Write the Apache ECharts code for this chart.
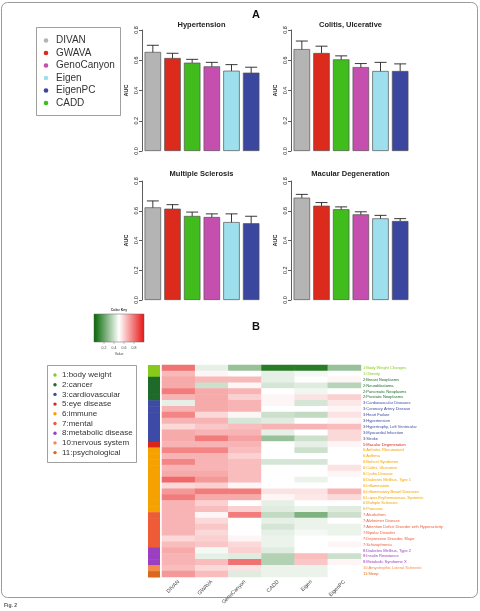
<!DOCTYPE html>
<html>
<head>
<meta charset="utf-8">
<script src="https://cdn.jsdelivr.net/npm/echarts@6/dist/echarts.min.js"></script>
<style>
html,body{margin:0;padding:0;background:#fff;}
#main{width:480px;height:611px;}
</style>
</head>
<body>
<div id="main"></div>
<script>
// ---- panel A : AUC bar plots ----
var methods = ['DIVAN', 'GWAVA', 'CADD', 'GenoCanyon', 'Eigen', 'EigenPC'];
var methodColors = ['#b4b4b4', '#dc2a1d', '#40bd1c', '#c54fae', '#9ddfec', '#3b469f'];
var legendNamesA = ['DIVAN', 'GWAVA', 'GenoCanyon', 'Eigen', 'EigenPC', 'CADD'];
var legendColorsA = ['#b4b4b4', '#dc2a1d', '#c54fae', '#9ddfec', '#3b469f', '#40bd1c'];
var panelTitles = ['Hypertension', 'Colitis, Ulcerative', 'Multiple Sclerosis', 'Macular Degeneration'];
var aucHypertension = [0.655, 0.615, 0.584, 0.560, 0.531, 0.518];
var errHypertension = [0.044, 0.031, 0.022, 0.026, 0.040, 0.036];
var aucColitis = [0.674, 0.648, 0.606, 0.555, 0.529, 0.529];
var errColitis = [0.053, 0.045, 0.023, 0.023, 0.057, 0.047];
var aucSclerosis = [0.623, 0.614, 0.565, 0.558, 0.524, 0.516];
var errSclerosis = [0.043, 0.027, 0.026, 0.021, 0.055, 0.047];
var aucMacular = [0.688, 0.634, 0.610, 0.576, 0.549, 0.531];
var errMacular = [0.022, 0.021, 0.016, 0.017, 0.020, 0.016];
var aucTicks = [0, 0.2, 0.4, 0.6, 0.8];

// ---- panel B : heatmap ----
var heatCols = ['DIVAN', 'GWAVA', 'GenoCanyon', 'CADD', 'Eigen', 'EigenPC'];
var groupIds = [1, 2, 3, 5, 6, 7, 8, 10, 11];
var groupNames = ['body weight', 'cancer', 'cardiovascular', 'eye disease', 'immune', 'mental', 'metabolic disease', 'nervous system', 'psychological'];
var groupColors = ['#86ca1c', '#1e6a2b', '#3d4aa6', '#d8261c', '#f5a200', '#ef5b36', '#9a3fc2', '#f48a48', '#d9681c'];
var diseases = ['Body Weight Changes', 'Obesity', 'Breast Neoplasms', 'Neuroblastoma', 'Pancreatic Neoplasms',
  'Prostatic Neoplasms', 'Cardiovascular Diseases', 'Coronary Artery Disease', 'Heart Failure', 'Hypertension',
  'Hypertrophy, Left Ventricular', 'Myocardial Infarction', 'Stroke', 'Macular Degeneration', 'Arthritis, Rheumatoid',
  'Asthma', 'Behcet Syndrome', 'Colitis, Ulcerative', 'Crohn Disease', 'Diabetes Mellitus, Type 1', 'Inflammation',
  'Inflammatory Bowel Diseases', 'Lupus Erythematosus, Systemic', 'Multiple Sclerosis', 'Psoriasis', 'Alcoholism',
  'Alzheimer Disease', 'Attention Deficit Disorder with Hyperactivity', 'Bipolar Disorder', 'Depressive Disorder, Major',
  'Schizophrenia', 'Diabetes Mellitus, Type 2', 'Insulin Resistance', 'Metabolic Syndrome X',
  'Amyotrophic Lateral Sclerosis', 'Sleep'];
var diseaseGroup = [1, 1, 2, 2, 2, 2, 3, 3, 3, 3, 3, 3, 3, 5, 6, 6, 6, 6, 6, 6, 6, 6, 6, 6, 6, 7, 7, 7, 7, 7, 7, 8, 8, 8, 10, 11];
var heatValues = [
  [0.80, 0.45, 0.30, 0.08, 0.08, 0.30],
  [0.65, 0.52, 0.50, 0.45, 0.48, 0.50],
  [0.68, 0.65, 0.65, 0.45, 0.50, 0.52],
  [0.68, 0.40, 0.52, 0.42, 0.44, 0.36],
  [0.78, 0.68, 0.66, 0.50, 0.47, 0.50],
  [0.66, 0.68, 0.60, 0.52, 0.56, 0.60],
  [0.45, 0.68, 0.66, 0.52, 0.42, 0.55],
  [0.66, 0.68, 0.66, 0.50, 0.50, 0.52],
  [0.76, 0.58, 0.52, 0.40, 0.38, 0.56],
  [0.66, 0.66, 0.42, 0.44, 0.50, 0.52],
  [0.58, 0.62, 0.64, 0.66, 0.66, 0.64],
  [0.68, 0.66, 0.66, 0.45, 0.50, 0.58],
  [0.68, 0.78, 0.70, 0.30, 0.40, 0.58],
  [0.66, 0.66, 0.66, 0.50, 0.45, 0.52],
  [0.76, 0.76, 0.64, 0.50, 0.40, 0.50],
  [0.66, 0.66, 0.60, 0.50, 0.50, 0.50],
  [0.76, 0.66, 0.64, 0.42, 0.42, 0.50],
  [0.66, 0.66, 0.64, 0.50, 0.50, 0.56],
  [0.68, 0.68, 0.64, 0.50, 0.50, 0.52],
  [0.82, 0.72, 0.64, 0.50, 0.46, 0.50],
  [0.58, 0.60, 0.52, 0.50, 0.50, 0.50],
  [0.72, 0.78, 0.78, 0.56, 0.56, 0.66],
  [0.78, 0.68, 0.68, 0.52, 0.55, 0.58],
  [0.66, 0.60, 0.50, 0.45, 0.50, 0.50],
  [0.66, 0.64, 0.60, 0.44, 0.46, 0.44],
  [0.66, 0.52, 0.78, 0.38, 0.25, 0.40],
  [0.66, 0.58, 0.50, 0.45, 0.46, 0.50],
  [0.66, 0.62, 0.50, 0.42, 0.46, 0.46],
  [0.66, 0.58, 0.50, 0.45, 0.48, 0.46],
  [0.58, 0.60, 0.52, 0.46, 0.50, 0.50],
  [0.64, 0.62, 0.58, 0.46, 0.50, 0.52],
  [0.68, 0.48, 0.60, 0.44, 0.50, 0.50],
  [0.66, 0.45, 0.44, 0.35, 0.64, 0.40],
  [0.66, 0.64, 0.80, 0.35, 0.62, 0.52],
  [0.64, 0.58, 0.56, 0.46, 0.46, 0.50],
  [0.72, 0.64, 0.44, 0.46, 0.46, 0.50]
];
var keyTicks = [0.2, 0.4, 0.6, 0.8];
var heatRamp = ['#006400', '#ffffff', '#e81414'];

var FONT = '"Liberation Sans", Arial, sans-serif';
var aucData = [aucHypertension, aucColitis, aucSclerosis, aucMacular];
var errData = [errHypertension, errColitis, errSclerosis, errMacular];

function groupColor(g) {
  return groupColors[groupIds.indexOf(g)];
}
var rowLabels = diseases.map(function (d, i) { return diseaseGroup[i] + ':' + d; });

var myChart = echarts.init(document.getElementById('main'));

// layout of the four bar panels
var panels = [
  {left: 143, top: 30, height: 121},
  {left: 292, top: 30, height: 121},
  {left: 143, top: 181, height: 119},
  {left: 292, top: 181, height: 119}
];

var grids = [], xAxes = [], yAxes = [], series = [];
panels.forEach(function (p, i) {
  grids.push({left: p.left, top: p.top, width: 118, height: p.height});
  xAxes.push({type: 'category', gridIndex: i, data: methods, show: false});
  yAxes.push({
    type: 'value', gridIndex: i, min: 0, max: 0.8, interval: 0.2, offset: 1,
    name: 'AUC', nameLocation: 'middle', nameGap: 13,
    nameTextStyle: {fontSize: 5.5, fontWeight: 'bold', color: '#222', fontFamily: FONT},
    axisLine: {show: true, lineStyle: {color: '#333', width: 0.8}},
    axisTick: {show: true, length: 3, lineStyle: {color: '#333', width: 0.8}},
    axisLabel: {rotate: 90, fontSize: 5.5, color: '#222', margin: 3, fontFamily: FONT,
      formatter: function (v) { return v.toFixed(1); }},
    splitLine: {show: false}
  });
  series.push({
    type: 'bar', xAxisIndex: i, yAxisIndex: i, barWidth: 16.5,
    data: aucData[i].map(function (v, k) {
      return {value: v, itemStyle: {color: methodColors[k]}};
    }),
    itemStyle: {borderColor: '#555', borderWidth: 0.7},
    silent: true
  });
  series.push({
    type: 'custom', xAxisIndex: i, yAxisIndex: i, silent: true,
    encode: {x: 0, y: [1, 2]},
    data: aucData[i].map(function (v, k) { return [k, v - errData[i][k], v + errData[i][k]]; }),
    renderItem: function (params, api) {
      var lo = api.coord([api.value(0), api.value(1)]);
      var hi = api.coord([api.value(0), api.value(2)]);
      var x = lo[0], w = 6;
      var st = {stroke: '#222', lineWidth: 0.9};
      return {type: 'group', children: [
        {type: 'line', shape: {x1: x, y1: lo[1], x2: x, y2: hi[1]}, style: st},
        {type: 'line', shape: {x1: x - w, y1: lo[1], x2: x + w, y2: lo[1]}, style: st},
        {type: 'line', shape: {x1: x - w, y1: hi[1], x2: x + w, y2: hi[1]}, style: st}
      ]};
    }
  });
});

// group colour strip (grid 4)
grids.push({left: 148, top: 365, width: 12, height: 212});
xAxes.push({type: 'category', gridIndex: 4, data: ['g'], show: false});
yAxes.push({type: 'category', gridIndex: 4, data: rowLabels, inverse: true, show: false});
series.push({
  type: 'custom', xAxisIndex: 4, yAxisIndex: 4, silent: true,
  encode: {x: 0, y: 1},
  data: diseaseGroup.map(function (g, i) { return [0, i, g]; }),
  renderItem: function (params, api) {
    var c = api.coord([0, api.value(1)]);
    var s = api.size([1, 1]);
    return {type: 'rect', shape: {x: c[0] - s[0] / 2, y: c[1] - s[1] / 2, width: s[0], height: s[1] + 0.5},
      style: {fill: groupColor(api.value(2))}};
  }
});

// heatmap (grid 5)
grids.push({left: 162, top: 365, width: 199, height: 212});
xAxes.push({
  type: 'category', gridIndex: 5, data: heatCols,
  axisLine: {show: false}, axisTick: {show: false},
  axisLabel: {rotate: 45, fontSize: 5.3, color: '#444', margin: 4, fontFamily: FONT}
});
yAxes.push({
  type: 'category', gridIndex: 5, data: rowLabels, inverse: true, position: 'right',
  axisLine: {show: false}, axisTick: {show: false},
  axisLabel: {fontSize: 4, margin: 2, fontFamily: FONT, interval: 0,
    color: function (value, index) { return groupColor(diseaseGroup[rowLabels.indexOf(value)]); }}
});
var heatData = [];
heatValues.forEach(function (row, r) {
  row.forEach(function (v, c) { heatData.push([c, r, v]); });
});
series.push({
  type: 'heatmap', xAxisIndex: 5, yAxisIndex: 5, data: heatData, silent: true,
  progressive: 0
});
var heatSeriesIndex = series.length - 1;

// static decorations: frame, panel letters, legends, colour key
var graphics = [];
graphics.push({type: 'rect', shape: {x: 1.5, y: 2.5, width: 476, height: 595, r: 6},
  style: {fill: null, stroke: '#9a9a9a', lineWidth: 1}});
graphics.push({type: 'text', style: {text: 'A', x: 256, y: 15, align: 'center', verticalAlign: 'middle',
  font: 'bold 11px ' + FONT, fill: '#111'}});
graphics.push({type: 'text', style: {text: 'B', x: 256, y: 327, align: 'center', verticalAlign: 'middle',
  font: 'bold 11px ' + FONT, fill: '#111'}});
var titlePos = [[201.5, 25], [350.5, 25], [201.5, 174], [350.5, 174]];
panelTitles.forEach(function (t, i) {
  graphics.push({type: 'text', style: {text: t, x: titlePos[i][0], y: titlePos[i][1], align: 'center',
    verticalAlign: 'middle', font: 'bold 7.5px ' + FONT, fill: '#222'}});
});

// legend A
graphics.push({type: 'rect', shape: {x: 36.5, y: 27.5, width: 84, height: 88},
  style: {fill: '#fff', stroke: '#888', lineWidth: 0.8}});
legendNamesA.forEach(function (n, i) {
  var y = 40.5 + i * 12.5;
  graphics.push({type: 'circle', shape: {cx: 46, cy: y, r: 2.3}, style: {fill: legendColorsA[i]}});
  graphics.push({type: 'text', style: {text: n, x: 56, y: y, verticalAlign: 'middle',
    font: '10px ' + FONT, fill: '#333'}});
});

// legend B
graphics.push({type: 'rect', shape: {x: 47.5, y: 365.5, width: 89, height: 97},
  style: {fill: '#fff', stroke: '#888', lineWidth: 0.8}});
groupIds.forEach(function (g, i) {
  var y = 375 + i * 9.7;
  graphics.push({type: 'circle', shape: {cx: 55, cy: y, r: 1.7}, style: {fill: groupColors[i]}});
  graphics.push({type: 'text', style: {text: g + ':' + groupNames[i], x: 62, y: y, verticalAlign: 'middle',
    font: '8px ' + FONT, fill: '#333'}});
});

// colour key
graphics.push({type: 'text', style: {text: 'Color Key', x: 119, y: 310, align: 'center', verticalAlign: 'middle',
  font: 'bold 3.5px ' + FONT, fill: '#333'}});
graphics.push({type: 'rect', shape: {x: 94, y: 314, width: 50, height: 28},
  style: {stroke: '#666', lineWidth: 0.5, fill: new echarts.graphic.LinearGradient(0, 0, 1, 0, [
    {offset: 0, color: heatRamp[0]}, {offset: 0.5, color: heatRamp[1]}, {offset: 1, color: heatRamp[2]}])}});
keyTicks.forEach(function (t) {
  var x = 94 + t * 50;
  graphics.push({type: 'line', shape: {x1: x, y1: 342, x2: x, y2: 344}, style: {stroke: '#666', lineWidth: 0.4}});
  graphics.push({type: 'text', style: {text: String(t), x: x, y: 348, align: 'center', verticalAlign: 'middle',
    font: '3.5px ' + FONT, fill: '#444'}});
});
graphics.push({type: 'text', style: {text: 'Value', x: 119, y: 354, align: 'center', verticalAlign: 'middle',
  font: '3.5px ' + FONT, fill: '#444'}});

// caption
graphics.push({type: 'text', style: {text: 'Fig. 2', x: 4, y: 606, verticalAlign: 'middle',
  font: 'bold 5px ' + FONT, fill: '#555'}});

var option = {
  animation: false,
  backgroundColor: '#fff',
  grid: grids,
  xAxis: xAxes,
  yAxis: yAxes,
  visualMap: {
    type: 'continuous', show: false, min: 0, max: 1, seriesIndex: heatSeriesIndex,
    inRange: {color: heatRamp}
  },
  graphic: graphics,
  series: series
};
myChart.setOption(option);
</script>
</body>
</html>
